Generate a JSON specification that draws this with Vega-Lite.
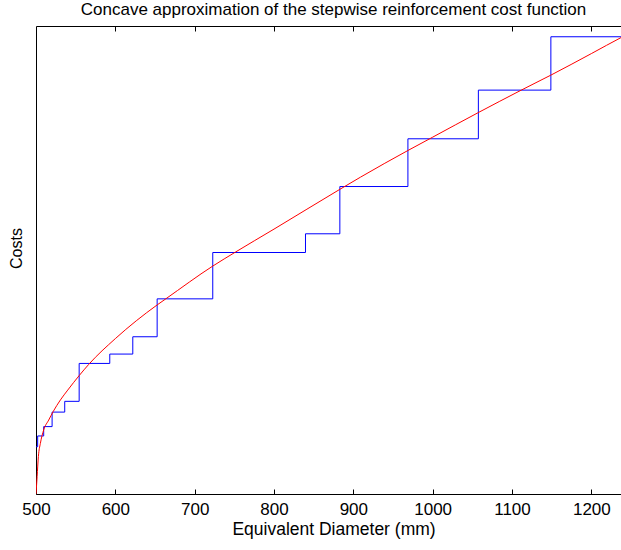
{
  "$schema": "https://vega.github.io/schema/vega-lite/v6.json",
  "autosize": {"type": "none"},
  "padding": {"left": 36, "top": 26, "right": 0, "bottom": 56},
  "width": 595,
  "height": 468,
  "title": {"text": "Concave approximation of the stepwise reinforcement cost function", "font": "Liberation Sans", "fontSize": 17, "fontWeight": "normal", "color": "#000000", "offset": 7},
  "config": {
    "view": {"stroke": "#000000", "strokeWidth": 1},
    "axis": {"labelFont": "Liberation Sans", "titleFont": "Liberation Sans", "labelColor": "#000000", "titleColor": "#000000", "titleFontWeight": "normal", "grid": false, "domainColor": "#000000", "tickColor": "#000000"}
  },
  "datasets": {
    "steps": [
      {"d": 500, "c": 10.1},
      {"d": 502.1, "c": 12.4},
      {"d": 509.7, "c": 14.4},
      {"d": 520.3, "c": 17.5},
      {"d": 536.2, "c": 19.8},
      {"d": 554.4, "c": 27.9},
      {"d": 593, "c": 29.9},
      {"d": 622, "c": 33.6},
      {"d": 652.7, "c": 41.7},
      {"d": 722.8, "c": 51.6},
      {"d": 839.7, "c": 55.6},
      {"d": 883, "c": 65.7},
      {"d": 968.8, "c": 75.9},
      {"d": 1057.6, "c": 86.3},
      {"d": 1149, "c": 97.7},
      {"d": 1250, "c": 97.7}
    ],
    "curve": [
      {"d": 500, "c": 0},
      {"d": 501.4, "c": 3.7},
      {"d": 503, "c": 8.0},
      {"d": 505.5, "c": 10.8},
      {"d": 509.7, "c": 13.7},
      {"d": 516, "c": 15.8},
      {"d": 521.6, "c": 17.6},
      {"d": 530.8, "c": 20.1},
      {"d": 540, "c": 22.2},
      {"d": 554.4, "c": 25.3},
      {"d": 566.5, "c": 27.7},
      {"d": 600, "c": 33.2},
      {"d": 652.7, "c": 40.4},
      {"d": 663.6, "c": 41.7},
      {"d": 722.8, "c": 48.7},
      {"d": 751.5, "c": 51.7},
      {"d": 800, "c": 56.6},
      {"d": 883, "c": 65.1},
      {"d": 909, "c": 67.7},
      {"d": 968.8, "c": 73.4},
      {"d": 999.5, "c": 76.2},
      {"d": 1057.5, "c": 81.5},
      {"d": 1111.7, "c": 86.3},
      {"d": 1149, "c": 89.5},
      {"d": 1200, "c": 94.1},
      {"d": 1238.3, "c": 97.6},
      {"d": 1250, "c": 98.6}
    ]
  },
  "layer": [
    {
      "data": {"name": "steps"},
      "mark": {"type": "line", "interpolate": "step-after", "color": "#0000ff", "strokeWidth": 1, "clip": true},
      "encoding": {
        "x": {"field": "d", "type": "quantitative", "scale": {"domain": [500, 1250], "nice": false, "zero": false},
          "axis": {"orient": "bottom", "title": "Equivalent Diameter (mm)", "titleFontSize": 17.5, "titlePadding": 3, "labelFontSize": 17, "labelPadding": 12, "tickSize": -5, "values": [500, 600, 700, 800, 900, 1000, 1100, 1200], "format": "d", "labelFlush": false, "domain": false}},
        "y": {"field": "c", "type": "quantitative", "scale": {"domain": [0, 100], "nice": false},
          "axis": {"title": "Costs", "titleFontSize": 16, "labels": false, "ticks": false, "domain": false, "titlePadding": 12, "titleY": 222}}
      }
    },
    {
      "data": {"name": "curve"},
      "mark": {"type": "line", "interpolate": "monotone", "color": "#ff0000", "strokeWidth": 1, "clip": true},
      "encoding": {
        "x": {"field": "d", "type": "quantitative",
          "axis": {"orient": "top", "title": null, "labels": false, "tickSize": -5, "values": [600, 700, 800, 900, 1000, 1100, 1200], "domain": false}},
        "y": {"field": "c", "type": "quantitative"}
      }
    }
  ]
}
